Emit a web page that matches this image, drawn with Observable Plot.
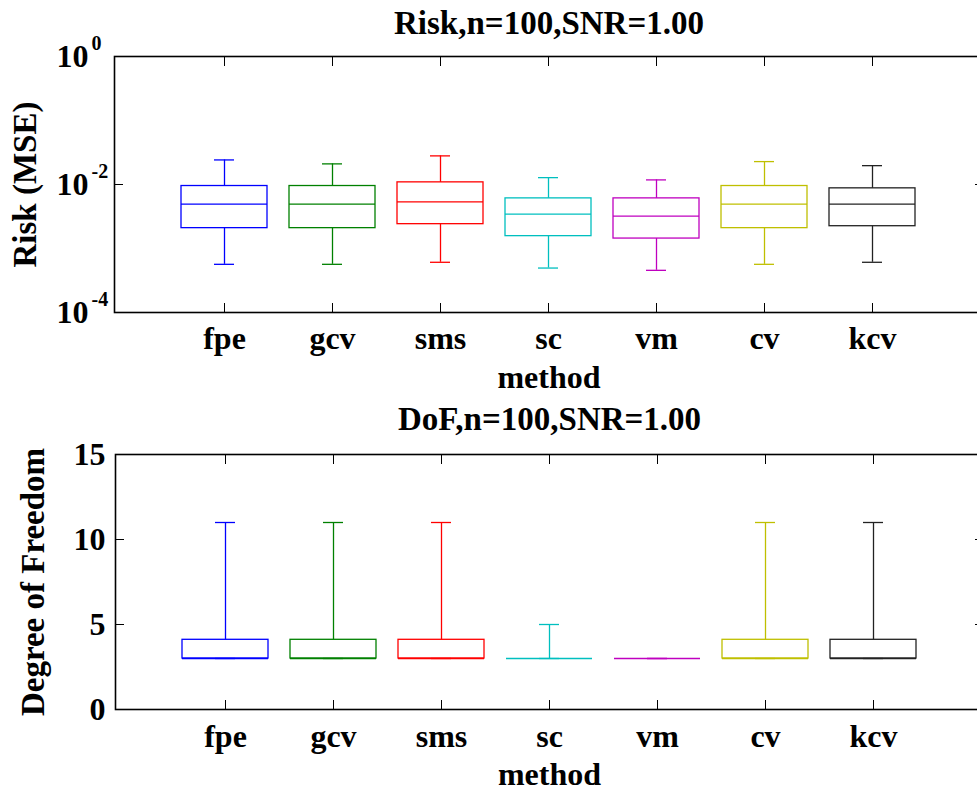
<!DOCTYPE html>
<html>
<head>
<meta charset="utf-8">
<script src="https://cdn.jsdelivr.net/npm/d3@7"></script>
<script src="https://cdn.jsdelivr.net/npm/@observablehq/plot@0.6"></script>
<style>
  html, body { margin: 0; padding: 0; background: white; overflow: hidden; width: 977px; height: 790px; }
  #chart svg { display: block; }
</style>
</head>
<body>
<div id="chart"></div>
<script>
// ---- data ----
const methods = ["fpe", "gcv", "sms", "sc", "vm", "cv", "kcv"];
const colors = ["#0000ff", "#008000", "#ff0000", "#00bfbf", "#bf00bf", "#bfbf00", "#222222"];

// Risk (MSE) box statistics
const riskLow  = [0.000566, 0.000566, 0.000609, 0.000495, 0.000456, 0.000566, 0.000609];
const riskQ1   = [0.00208, 0.00208, 0.00240, 0.00156, 0.00143, 0.00208, 0.00223];
const riskMed  = [0.00494, 0.00494, 0.00537, 0.00345, 0.00321, 0.00494, 0.00494];
const riskQ3   = [0.00947, 0.00947, 0.0108, 0.00607, 0.00607, 0.00947, 0.00871];
const riskHigh = [0.0242, 0.0210, 0.0280, 0.0128, 0.0118, 0.0228, 0.0197];

// Degree of freedom box statistics
const dofLow  = [3, 3, 3, 3, 3, 3, 3];
const dofQ1   = [3, 3, 3, 3, 3, 3, 3];
const dofMed  = [3, 3, 3, 3, 3, 3, 3];
const dofQ3   = [4.1, 4.1, 4.1, 3, 3, 4.1, 4.1];
const dofHigh = [11, 11, 11, 5, 3, 11, 11];

const riskTicks = [1e-4, 1e-2, 1];
const riskExponents = ["-4", "-2", "0"];
const dofTicks = [0, 5, 10, 15];

const riskTitle = "Risk,n=100,SNR=1.00";
const dofTitle = "DoF,n=100,SNR=1.00";
const riskYLabel = "Risk (MSE)";
const dofYLabel = "Degree of Freedom";
const xLabel = "method";

// ---- build ----
function rows(low, q1, med, q3, high) {
  return methods.map((m, i) => ({method: m, low: low[i], q1: q1[i], med: med[i], q3: q3[i], high: high[i]}));
}

const FONT = "Liberation Serif";
const baseStyle = {fontFamily: FONT, fontWeight: "bold", fontSize: "32px", overflow: "visible", maxWidth: "none", background: "transparent"};

function boxMarks(data) {
  const sw = 1.3;
  return [
    Plot.ruleX(data, {x: "method", y1: "q3", y2: "high", stroke: "method", strokeWidth: sw}),
    Plot.ruleX(data, {x: "method", y1: "low", y2: "q1", stroke: "method", strokeWidth: sw}),
    Plot.tickY(data, {x: "method", y: "high", stroke: "method", strokeWidth: sw, insetLeft: 33, insetRight: 33}),
    Plot.tickY(data, {x: "method", y: "low", stroke: "method", strokeWidth: sw, insetLeft: 33, insetRight: 33}),
    Plot.barY(data, {x: "method", y1: "q1", y2: "q3", fill: "none", stroke: "method", strokeWidth: sw}),
    Plot.tickY(data, {x: "method", y: "med", stroke: "method", strokeWidth: sw})
  ];
}

function tickMarks(yTicks) {
  const ts = 9;
  return [
    Plot.axisX({anchor: "bottom", tickSize: ts, dy: -ts, text: null, label: null, strokeWidth: 1}),
    Plot.axisX({anchor: "top", tickSize: ts, dy: ts, text: null, label: null, strokeWidth: 1}),
    Plot.axisY({anchor: "left", ticks: yTicks, tickSize: ts, dx: ts, text: null, label: null, strokeWidth: 1}),
    Plot.axisY({anchor: "right", ticks: yTicks, tickSize: ts, dx: -ts, text: null, label: null, strokeWidth: 1})
  ];
}

const xScale = {type: "band", domain: methods, paddingInner: 0.2, paddingOuter: 0.6, axis: null};
const colorScale = {domain: methods, range: colors};

// Top panel: Risk
const riskRows = rows(riskLow, riskQ1, riskMed, riskQ3, riskHigh);
const expData = riskTicks.map((t, i) => ({t, e: riskExponents[i]}));
const riskPlot = Plot.plot({
  width: 985, height: 396,
  marginTop: 56, marginBottom: 84, marginLeft: 114, marginRight: 2,
  style: baseStyle,
  x: xScale,
  y: {type: "log", domain: [1e-4, 1], axis: null},
  color: colorScale,
  marks: [
    ...boxMarks(riskRows),
    Plot.frame({stroke: "black", strokeWidth: 1.6}),
    ...tickMarks(riskTicks),
    Plot.axisY({anchor: "left", ticks: riskTicks, tickSize: 0, tickPadding: 26, tickFormat: () => "10", label: null, fontSize: 32}),
    Plot.text(expData, {y: "t", text: "e", frameAnchor: "left", textAnchor: "start", lineAnchor: "bottom", dx: -23, dy: -7, fontSize: 20}),
    Plot.text(methods, {x: d => d, text: d => d, frameAnchor: "bottom", lineAnchor: "bottom", dy: 36, fontSize: 32}),
    Plot.text([xLabel], {text: d => d, frameAnchor: "bottom", lineAnchor: "bottom", dy: 75, fontSize: 32}),
    Plot.text([riskTitle], {text: d => d, frameAnchor: "top", lineAnchor: "bottom", dy: -23, fontSize: 33}),
    Plot.text([riskYLabel], {text: d => d, frameAnchor: "left", textAnchor: "middle", rotate: -90, lineAnchor: "bottom", dx: -79, fontSize: 33})
  ]
});

// Bottom panel: DoF
const dofRows = rows(dofLow, dofQ1, dofMed, dofQ3, dofHigh);
const dofPlot = Plot.plot({
  width: 985, height: 394,
  marginTop: 58, marginBottom: 81, marginLeft: 115, marginRight: 2,
  style: baseStyle,
  x: xScale,
  y: {type: "linear", domain: [0, 15], axis: null},
  color: colorScale,
  marks: [
    ...boxMarks(dofRows),
    Plot.frame({stroke: "black", strokeWidth: 1.6}),
    ...tickMarks(dofTicks),
    Plot.axisY({anchor: "left", ticks: dofTicks, tickSize: 0, tickPadding: 10, tickFormat: d => String(d), label: null, fontSize: 32}),
    Plot.text(methods, {x: d => d, text: d => d, frameAnchor: "bottom", lineAnchor: "bottom", dy: 37, fontSize: 32}),
    Plot.text([xLabel], {text: d => d, frameAnchor: "bottom", lineAnchor: "bottom", dy: 75, fontSize: 32}),
    Plot.text([dofTitle], {text: d => d, frameAnchor: "top", lineAnchor: "bottom", dy: -25, fontSize: 33}),
    Plot.text([dofYLabel], {text: d => d, frameAnchor: "left", textAnchor: "middle", rotate: -90, lineAnchor: "bottom", dx: -72, fontSize: 33})
  ]
});

const chart = document.getElementById("chart");
chart.appendChild(riskPlot);
chart.appendChild(dofPlot);
</script>
</body>
</html>
